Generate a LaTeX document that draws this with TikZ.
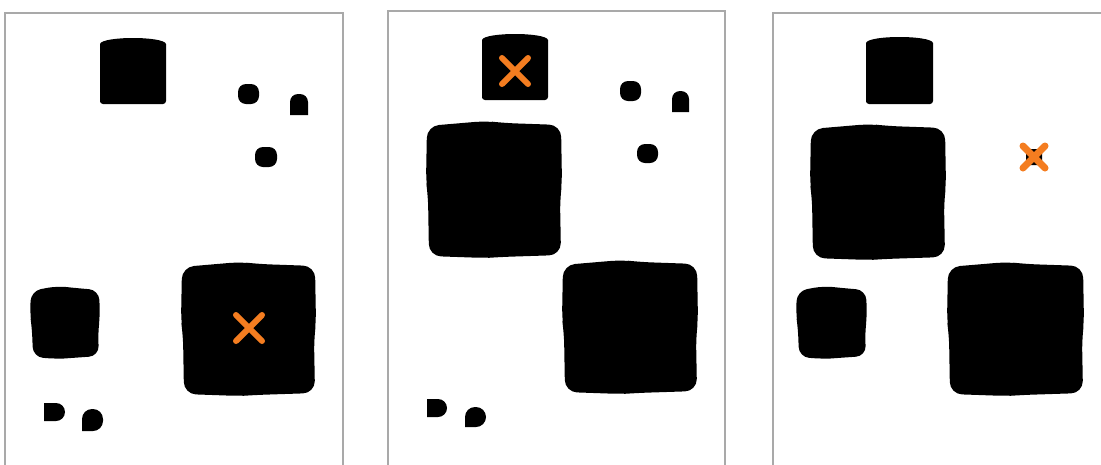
\documentclass[tikz,border=0pt]{standalone}
\usetikzlibrary{calc}
\definecolor{frame}{HTML}{A9A9A9}
\definecolor{hit}{HTML}{F47D20}
\newcommand{\lump}[5]{% wobbly square: x1,y1,x2,y2,corner
 \fill[blob,rounded corners=#5] (#1,#2+4) -- ({(#1+#3)/2-8},#2-1) -- ({(#1+#3)/2+10},#2+1) -- (#3,#2+3) -- (#3+1,{(#2+#4)/2-6}) -- (#3-1,{(#2+#4)/2+10}) -- (#3,#4-2) -- ({(#1+#3)/2+6},#4) -- ({(#1+#3)/2-8},#4+1) -- (#1+2,#4-1) -- (#1+1,{(#2+#4)/2+6}) -- (#1-1,{(#2+#4)/2-8}) -- cycle;}
\newcommand{\loaf}[4]{% flat bottom, arched top
 \fill[blob] (#1,#4) -- (#1,#2+7) .. controls (#1+2,#2-1) and (#3-2,#2-1) .. (#3,#2+7) [rounded corners=3] -- (#3,#4) -- (#1,#4) -- cycle;}
\newcommand{\hitat}[3]{% centre x,y and half arm
 \draw[hitmark] (#1-#3,#2-#3) -- (#1+#3,#2+#3) (#1-#3,#2+#3) -- (#1+#3,#2-#3);}
\tikzset{
 panel/.style={draw=frame,line width=2pt,fill=white},
 blob/.style={fill=black},
 dot/.style={fill=black,rounded corners=8},
 hitmark/.style={draw=hit,line width=6pt,line cap=round},
}
\begin{document}
\begin{tikzpicture}[x=1pt,y=-1pt]
\clip (0,0) rectangle (1101,464);
\fill[white] (0,0) rectangle (1101,464);

% panel 1
\draw[panel] (5,13) rectangle (343,480);
\loaf{100}{37}{166}{104}
\fill[dot] (238,84) rectangle (259,104);
\fill[blob] (290,115) -- (290,104) [rounded corners=8] -- (290,94) -- (308,94) [sharp corners] -- (308,104) -- (308,115) -- cycle;
\fill[dot] (255,147) rectangle (277,167);
\lump{31}{287}{99}{358}{10}
\lump{182}{263}{315}{395}{12}
\fill[blob] (44,421) -- (44,403) [rounded corners=9] -- (65,403) -- (65,421) [sharp corners] -- cycle;
\fill[blob] (82,431) -- (82,420) [rounded corners=10] -- (82,409) -- (103,409) -- (103,431) [sharp corners] -- cycle;
\hitat{249}{328}{13}

% panel 2
\draw[panel] (388,11) rectangle (725,480);
\loaf{482}{33}{548}{100}
\fill[dot] (620,81) rectangle (641,101);
\fill[blob] (672,112) -- (672,101) [rounded corners=8] -- (672,91) -- (689,91) [sharp corners] -- (689,101) -- (689,112) -- cycle;
\fill[dot] (637,144) rectangle (658,163);
\lump{427}{122}{561}{257}{12}
\lump{563}{261}{697}{393}{12}
\fill[blob] (427,417) -- (427,399) [rounded corners=9] -- (447,399) -- (447,417) [sharp corners] -- cycle;
\fill[blob] (465,427) -- (465,417) [rounded corners=10] -- (465,407) -- (486,407) -- (486,427) [sharp corners] -- cycle;
\hitat{515}{71}{13}

% panel 3
\draw[panel] (773,13) rectangle (1120,480);
\loaf{866}{36}{933}{104}
\lump{811}{125}{945}{259}{12}
\lump{797}{287}{866}{358}{10}
\lump{948}{263}{1083}{395}{12}
\fill[dot,rounded corners=3] (1026,149) rectangle (1042,165);
\draw[hitmark,line width=7pt] (1023,146) -- (1045,168) (1023,168) -- (1045,146);
\end{tikzpicture}
\end{document}
